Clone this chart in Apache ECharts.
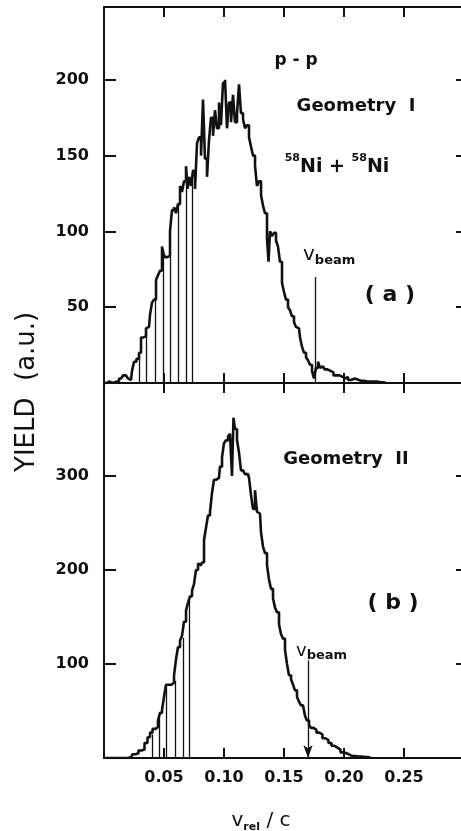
<!doctype html>
<html>
<head>
<meta charset="UTF-8"/>
<title>p-p relative velocity yield</title>
<script src="https://cdn.jsdelivr.net/npm/echarts@6/dist/echarts.min.js"></script>
<style>
html, body { margin: 0; padding: 0; background: #fff; }
#chart { width: 461px; height: 831px; }
</style>
</head>
<body>
<div id="chart"></div>
<script>

// x tick labels (v_rel / c)
var xTicks = ['0.05', '0.10', '0.15', '0.20', '0.25'];

// (a) Geometry I : v_rel/c and yield
var topV = [0.0008, 0.0042, 0.0075, 0.0108, 0.0142, 0.0175, 0.0192, 0.0208, 0.0225, 0.0242,
  0.0258, 0.0283, 0.0300, 0.0317, 0.0342, 0.0358, 0.0375, 0.0392, 0.0408, 0.0425,
  0.0442, 0.0458, 0.0475, 0.0492, 0.0500, 0.0517, 0.0542, 0.0558, 0.0575, 0.0592,
  0.0608, 0.0625, 0.0642, 0.0658, 0.0675, 0.0692, 0.0700, 0.0717, 0.0733, 0.0750,
  0.0767, 0.0783, 0.0800, 0.0817, 0.0833, 0.0850, 0.0867, 0.0883, 0.0900, 0.0917,
  0.0933, 0.0950, 0.0967, 0.0983, 0.1000, 0.1017, 0.1033, 0.1050, 0.1067, 0.1083,
  0.1100, 0.1117, 0.1133, 0.1150, 0.1167, 0.1183, 0.1200, 0.1217, 0.1233, 0.1250,
  0.1267, 0.1283, 0.1300, 0.1317, 0.1333, 0.1350, 0.1367, 0.1375, 0.1392, 0.1408,
  0.1425, 0.1442, 0.1458, 0.1475, 0.1492, 0.1508, 0.1525, 0.1542, 0.1558, 0.1575,
  0.1592, 0.1608, 0.1625, 0.1642, 0.1658, 0.1675, 0.1692, 0.1708, 0.1725, 0.1742,
  0.1758, 0.1775, 0.1792, 0.1808, 0.1825, 0.1850, 0.1875, 0.1900, 0.1925, 0.1950,
  0.1975, 0.2000, 0.2025, 0.2042, 0.2075, 0.2108, 0.2142, 0.2192, 0.2242, 0.2308, 0.2350];
var topYield = [0, 1, 0, 1, 3, 5, 6, 3, 2, 8,
  14, 16, 20, 30, 31, 36, 37, 45, 53, 55,
  68, 71, 74, 90, 85, 83, 84, 100, 114, 116,
  112, 118, 130, 126, 133, 143, 128, 136, 130, 140,
  128, 158, 162, 150, 187, 148, 136, 160, 175, 163,
  180, 168, 185, 170, 198, 200, 168, 185, 172, 190,
  172, 178, 197, 178, 174, 168, 170, 162, 156, 150,
  143, 130, 133, 124, 117, 112, 95, 80, 100, 97,
  99, 94, 90, 80, 66, 60, 55, 50, 48, 44,
  40, 37, 36, 30, 24, 20, 17, 15, 12, 8,
  3, 10, 14, 10, 11, 9, 8, 7, 5, 5,
  4, 3, 4, 2, 3, 2, 1.5, 1, 1, 0.5, 0];

// (b) Geometry II
var botV = [0.0008, 0.0183, 0.0225, 0.0250, 0.0275, 0.0300, 0.0325, 0.0350, 0.0375, 0.0392,
  0.0417, 0.0442, 0.0458, 0.0475, 0.0492, 0.0508, 0.0525, 0.0550, 0.0575, 0.0592,
  0.0608, 0.0625, 0.0642, 0.0658, 0.0675, 0.0692, 0.0708, 0.0725, 0.0742, 0.0758,
  0.0775, 0.0792, 0.0808, 0.0825, 0.0842, 0.0858, 0.0875, 0.0892, 0.0908, 0.0925,
  0.0942, 0.0958, 0.0975, 0.0992, 0.1008, 0.1025, 0.1042, 0.1058, 0.1075, 0.1083,
  0.1100, 0.1117, 0.1133, 0.1150, 0.1167, 0.1183, 0.1200, 0.1217, 0.1233, 0.1250,
  0.1267, 0.1283, 0.1300, 0.1317, 0.1333, 0.1350, 0.1367, 0.1383, 0.1400, 0.1417,
  0.1433, 0.1450, 0.1467, 0.1483, 0.1500, 0.1517, 0.1533, 0.1550, 0.1567, 0.1583,
  0.1600, 0.1617, 0.1633, 0.1650, 0.1667, 0.1683, 0.1700, 0.1717, 0.1733, 0.1758,
  0.1783, 0.1808, 0.1833, 0.1858, 0.1883, 0.1908, 0.1933, 0.1958, 0.1983, 0.2008,
  0.2033, 0.2075, 0.2125, 0.2175, 0.2225];
var botYield = [0, 0, 1, 4, 5, 8, 9, 16, 22, 27,
  31, 33, 40, 48, 51, 65, 78, 78, 80, 88,
  105, 118, 125, 130, 145, 157, 165, 172, 178, 185,
  200, 207, 205, 208, 232, 245, 258, 262, 282, 296,
  298, 298, 310, 320, 335, 338, 342, 345, 300, 362,
  350, 338, 325, 306, 304, 302, 302, 298, 280, 265,
  285, 262, 260, 240, 225, 218, 205, 190, 180, 170,
  160, 155, 142, 132, 127, 115, 100, 88, 84, 78,
  72, 65, 60, 56, 54, 45, 40, 35, 32, 30,
  27, 25, 21, 19, 16, 13, 11, 9, 6, 5,
  3, 2, 1.5, 1, 0];

// vertical hatch lines under the rising edge
var topHatchV = [0.0290, 0.0356, 0.0425, 0.0494, 0.0553, 0.0620, 0.0686, 0.0733];
var topHatchY = [18, 36, 55, 88, 84, 118, 140, 134];
var botHatchV = [0.0398, 0.0461, 0.0517, 0.0592, 0.0661, 0.0711];
var botHatchY = [25, 46, 76, 82, 128, 168];

// beam velocity markers [v, top of marker]
var beamV = [0.176, 0.170];
var beamTop = [70, 104];

var ink = '#111';
var tickFont = 'DejaVu Sans';

function pairs(xs, ys) {
  return xs.map(function (x, i) { return [x, ys[i]]; });
}
function hatch(xs, ys) {
  return xs.map(function (x, i) { return [{ coord: [x, 0] }, { coord: [x, ys[i]] }]; });
}
function xLabel(v) {
  var s = v.toFixed(2);
  return xTicks.indexOf(s) >= 0 ? s : '';
}

function xAx(grid, pos, labels) {
  return {
    type: 'value', gridIndex: grid, position: pos,
    min: 0, max: 0.30, interval: 0.05,
    axisLine: { onZero: false, lineStyle: { color: ink, width: 2 } },
    axisTick: { inside: true, length: 10, lineStyle: { color: ink, width: 2 } },
    axisLabel: labels ? {
      show: true, margin: 12, formatter: xLabel,
      color: ink, fontFamily: tickFont, fontWeight: 'bold', fontSize: 16
    } : { show: false },
    splitLine: { show: false }
  };
}
function yAx(grid, pos, max, step, labels) {
  return {
    type: 'value', gridIndex: grid, position: pos,
    min: 0, max: max, interval: step,
    axisLine: { show: true, onZero: false, lineStyle: { color: ink, width: 2 } },
    axisTick: { inside: true, length: pos === 'left' ? 12 : 8, lineStyle: { color: ink, width: 2 } },
    axisLabel: labels ? {
      show: true, margin: 15,
      formatter: function (v) { return (v > 0 && v < max - 1) ? String(v) : ''; },
      color: ink, fontFamily: tickFont, fontWeight: 'bold', fontSize: 16
    } : { show: false },
    splitLine: { show: false }
  };
}

var chart = echarts.init(document.getElementById('chart'), null, { renderer: 'canvas' });

var lineStyle = { color: ink, width: 2.6 };
var hatchStyle = { color: ink, width: 1.3, type: 'solid' };

var option = {
  backgroundColor: '#fff',
  animation: false,
  grid: [
    { left: 104, top: 7, width: 360, height: 376, outerBoundsMode: 'none' },
    { left: 104, top: 383, width: 360, height: 375, outerBoundsMode: 'none' }
  ],
  xAxis: [
    xAx(0, 'bottom', false),
    xAx(0, 'top', false),
    xAx(1, 'bottom', true),
    xAx(1, 'top', false)
  ],
  yAxis: [
    yAx(0, 'left', 248, 50, true),
    yAx(0, 'right', 248, 50, false),
    yAx(1, 'left', 399, 100, true),
    yAx(1, 'right', 399, 100, false)
  ],
  series: [
    {
      type: 'line', xAxisIndex: 0, yAxisIndex: 0,
      data: pairs(topV, topYield), step: 'middle',
      showSymbol: false, symbol: 'none', lineStyle: lineStyle, silent: true,
      markLine: {
        silent: true, symbol: ['none', 'none'], label: { show: false },
        lineStyle: hatchStyle, animation: false,
        data: hatch(topHatchV, topHatchY).concat([
          [{ coord: [beamV[0], beamTop[0]] }, { coord: [beamV[0], 0] }]
        ])
      }
    },
    {
      type: 'line', xAxisIndex: 2, yAxisIndex: 2,
      data: pairs(botV, botYield), step: 'middle',
      showSymbol: false, symbol: 'none', lineStyle: lineStyle, silent: true,
      markLine: {
        silent: true, symbol: ['none', 'none'], label: { show: false },
        lineStyle: hatchStyle, animation: false,
        data: hatch(botHatchV, botHatchY)
      }
    },
    {
      type: 'line', xAxisIndex: 2, yAxisIndex: 2, data: [],
      markLine: {
        silent: true, symbol: ['none', 'arrow'], symbolSize: [7, 13],
        label: { show: false }, lineStyle: hatchStyle, animation: false,
        data: [[{ coord: [beamV[1], beamTop[1]] }, { coord: [beamV[1], 0] }]]
      }
    }
  ],
  graphic: [
    {
      type: 'text', rotation: Math.PI / 2,
      style: {
        text: 'YIELD  (a.u.)', fill: ink,
        font: '26px "DejaVu Sans"'
      },
      x: 14, y: 472
    },
    {
      type: 'text', x: 296, y: 61,
      style: { text: 'p - p', fill: ink, font: 'bold 17px "DejaVu Sans"', align: 'center', verticalAlign: 'middle' }
    },
    {
      type: 'text', x: 356, y: 106,
      style: { text: 'Geometry  I', fill: ink, font: 'bold 18px "DejaVu Sans"', align: 'center', verticalAlign: 'middle' }
    },
    {
      type: 'text', x: 337, y: 165,
      style: {
        text: '{s|58}{b|Ni + }{s|58}{b|Ni}', align: 'center', verticalAlign: 'middle',
        rich: {
          s: { fontFamily: 'DejaVu Sans', fontWeight: 'bold', fontSize: 11, lineHeight: 12, verticalAlign: 'top', fill: ink },
          b: { fontFamily: 'DejaVu Sans', fontWeight: 'bold', fontSize: 19, lineHeight: 24, verticalAlign: 'bottom', fill: ink }
        }
      }
    },
    {
      type: 'text', x: 303, y: 256,
      style: {
        text: '{v|v}{s|beam}', align: 'left', verticalAlign: 'middle',
        rich: {
          v: { fontFamily: 'DejaVu Sans', fontSize: 20, lineHeight: 22, verticalAlign: 'top', fill: ink },
          s: { fontFamily: 'DejaVu Sans', fontWeight: 'bold', fontSize: 13, lineHeight: 14, verticalAlign: 'bottom', fill: ink }
        }
      }
    },
    {
      type: 'text', x: 390, y: 295,
      style: { text: '( a )', fill: ink, font: 'bold 22px "DejaVu Sans"', align: 'center', verticalAlign: 'middle' }
    },
    {
      type: 'text', x: 346, y: 459,
      style: { text: 'Geometry  II', fill: ink, font: 'bold 18px "DejaVu Sans"', align: 'center', verticalAlign: 'middle' }
    },
    {
      type: 'text', x: 393, y: 603,
      style: { text: '( b )', fill: ink, font: 'bold 22px "DejaVu Sans"', align: 'center', verticalAlign: 'middle' }
    },
    {
      type: 'text', x: 296, y: 652,
      style: {
        text: '{v|v}{s|beam}', align: 'left', verticalAlign: 'middle',
        rich: {
          v: { fontFamily: 'DejaVu Sans', fontSize: 18, lineHeight: 20, verticalAlign: 'top', fill: ink },
          s: { fontFamily: 'DejaVu Sans', fontWeight: 'bold', fontSize: 13, lineHeight: 14, verticalAlign: 'bottom', fill: ink }
        }
      }
    },
    {
      type: 'text', x: 261, y: 822,
      style: {
        text: '{v|v}{s|rel}{v| / c}', align: 'center', verticalAlign: 'middle',
        rich: {
          v: { fontFamily: 'DejaVu Sans', fontSize: 20, lineHeight: 22, verticalAlign: 'top', fill: ink },
          s: { fontFamily: 'DejaVu Sans', fontWeight: 'bold', fontSize: 11, lineHeight: 12, verticalAlign: 'bottom', fill: ink }
        }
      }
    }
  ]
};

chart.setOption(option);

</script>
</body>
</html>
